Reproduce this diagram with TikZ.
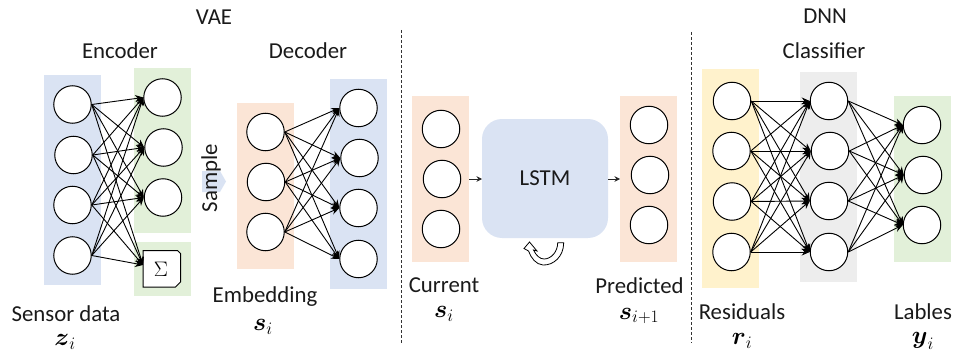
\documentclass[tikz,border=0pt]{standalone}
\usepackage{fix-cm}
\usepackage{amsmath}
\usepackage{fontspec}
\setmainfont{Carlito}
\usetikzlibrary{arrows.meta,shapes.arrows}
\definecolor{bluebg}{HTML}{DAE3F3}
\definecolor{greenbg}{HTML}{E2F0D9}
\definecolor{orangebg}{HTML}{FBE5D6}
\definecolor{yellowbg}{HTML}{FFF2CC}
\definecolor{greybg}{HTML}{EDEDED}
\definecolor{txt}{HTML}{1A1A1A}
\tikzset{
  x=1pt,y=-1pt,
  neuron/.style={circle,draw=black,fill=white,line width=1pt,minimum size=37.5pt,inner sep=0pt},
  link/.style={-{Stealth[length=8pt,width=7pt]},line width=0.9pt,black},
  shortlink/.style={-{Stealth[length=5.5pt,width=5.5pt]},line width=0.9pt,black!85},
  panel/.style={inner sep=0pt,outer sep=0pt},
  lbl/.style={inner sep=0pt,text=txt,font=\fontsize{22.8}{27}\selectfont},
  mathlbl/.style={inner sep=0pt,text=black,font=\fontsize{25}{30}\selectfont},
  divider/.style={densely dashed,line width=0.8pt,black!80}
}
\begin{document}
\begin{tikzpicture}
\useasboundingbox (0,0) rectangle (954,353);
% panels
\fill[bluebg] (44,75) rectangle (101,285);
\fill[greenbg] (134,68) rectangle (191,233);
\fill[greenbg] (134,242) rectangle (191,296);
\fill[orangebg] (237,103) rectangle (294,269);
\fill[bluebg] (330,79) rectangle (387,289);
\fill[orangebg] (412,96) rectangle (469,262);
\fill[orangebg] (620,96) rectangle (677,262);
\fill[yellowbg] (702,69) rectangle (759,288);
\fill[greybg] (800,72) rectangle (857,282);
\fill[greenbg] (894,96) rectangle (951,262);
% sample arrow
\fill[bluebg] (202,171) -- (220,171) -- (226,181.5) -- (220,192) -- (202,192) -- cycle;
% neurons
\foreach \n/\x/\y in {
 e1/72.5/104.5,e2/73.5/155,e3/72.5/205,e4/72.5/255.5,
 m1/162.5/97.5,m2/163.5/147.5,m3/163/197.5,
 d1/265.5/132,d2/266/182,d3/265.5/232,
 o1/358.5/108,o2/359.5/158,o3/358.5/208,o4/358.5/259,
 c1/441/129,c2/442/179,c3/441/229,
 p1/649/125,p2/650/175,p3/649/225,
 r1/732/101,r2/731.5/151,r3/732/201.5,r4/731.5/252,
 h1/829/101,h2/830/151,h3/829/201,h4/829/252,
 y1/922/125,y2/923/175,y3/922/225}
 \node[neuron] (\n) at (\x,\y) {};
% sigma box
\draw[fill=white,line width=1pt] (143,250.5) -- (177.5,250.5) -- (180.5,253.5) -- (180.5,282) -- (175.5,287) -- (143,287) -- cycle;
\node[inner sep=0pt,font=\fontsize{21}{24}\selectfont] (sigma) at (161,269.5) {$\Sigma$};
\coordinate (sw) at (143,265);
% connectors
\foreach \a in {e1,e2,e3,e4}{
  \foreach \b in {m1,m2,m3}{\draw[link] (\a.east) -- (\b.west);}
  \draw[link] (\a.east) -- (sw);
}
\foreach \a in {d1,d2,d3}\foreach \b in {o1,o2,o3,o4}{\draw[link] (\a.east) -- (\b.west);}
\foreach \a in {r1,r2,r3,r4}\foreach \b in {h1,h2,h3,h4}{\draw[link] (\a.east) -- (\b.west);}
\foreach \a in {h1,h2,h3,h4}\foreach \b in {y1,y2,y3}{\draw[link] (\a.east) -- (\b.west);}
% LSTM
\node[panel,fill=bluebg,rounded corners=20pt,minimum width=126pt,minimum height=119pt] (lstm) at (545,178.5) {};
\node[lbl] (lstmtext) at (545,178) {LSTM};
\coordinate (cur) at (469,179);
\coordinate (pre) at (620,179);
\draw[shortlink] (cur) -- (lstm.west |- cur);
\draw[shortlink] (lstm.east |- pre) -- (pre);
% recurrent arrow
\draw[draw=black,fill=white,line width=0.8pt,line join=miter]
  (563.7,242.7) .. controls (563.7,257) and (553,265.5) .. (543,265)
  .. controls (536,264.5) and (531,258) .. (528.5,251)
  -- (524,248.5) -- (529.5,242) -- (537,251) -- (533.5,250)
  .. controls (536,255.5) and (540,259) .. (544,259)
  .. controls (551,259) and (557.7,252) .. (557.7,242.7) -- cycle;
% dividers
\coordinate (t1) at (401,30); \coordinate (b1) at (401,343);
\coordinate (t2) at (691.5,32); \coordinate (b2) at (691.5,343);
\draw[divider] (t1) -- (b1);
\draw[divider] (t2) -- (b2);
% labels
\node[lbl] (vae) at (214,17) {VAE};
\node[lbl] (encoder) at (120,51) {Encoder};
\node[lbl] (decoder) at (308,51) {Decoder};
\node[lbl,rotate=90] (sample) at (211,178) {Sample};
\node[lbl] (sensor) at (66,314) {Sensor data};
\node[mathlbl] (zi) at (65,342) {$\boldsymbol{z}_{i}$};
\node[lbl] (emb) at (265,297) {Embedding};
\node[mathlbl] (si) at (263,327) {$\boldsymbol{s}_{i}$};
\node[lbl] (current) at (444,285) {Current};
\node[mathlbl] (si2) at (444,314) {$\boldsymbol{s}_{i}$};
\node[lbl] (pred) at (639.5,286) {Predicted};
\node[mathlbl] (si3) at (639,316) {$\boldsymbol{s}_{i+1}$};
\node[lbl] (dnn) at (825,16) {DNN};
\node[lbl] (cls) at (824,51) {Classifier};
\node[lbl] (res) at (742,312) {Residuals};
\node[mathlbl] (ri) at (742,341) {$\boldsymbol{r}_{i}$};
\node[lbl] (lab) at (923,312) {Lables};
\node[mathlbl] (yi) at (923,341) {$\boldsymbol{y}_{i}$};
\end{tikzpicture}
\end{document}
